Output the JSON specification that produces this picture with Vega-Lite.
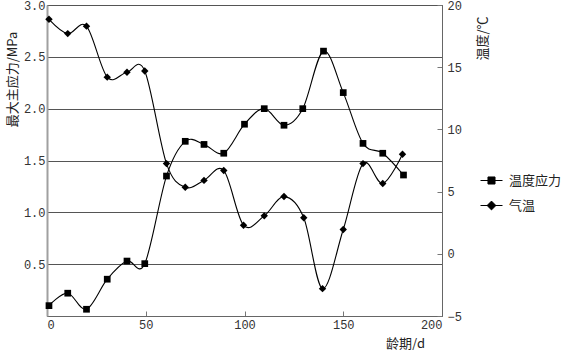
{
  "$schema": "https://vega.github.io/schema/vega-lite/v6.json",
  "width": 395,
  "height": 311,
  "autosize": {"type": "none"},
  "padding": {"left": 47, "top": 5, "right": 121, "bottom": 34},
  "background": "white",
  "config": {
    "view": {"stroke": "#666", "strokeWidth": 1},
    "axis": {
      "labelFont": "Liberation Mono",
      "labelFontSize": 12,
      "labelColor": "#333",
      "titleFont": "Noto Sans CJK SC",
      "titleFontSize": 13,
      "titleFontWeight": "normal",
      "titleColor": "#222",
      "domainColor": "#777",
      "tickColor": "#777",
      "gridColor": "#555",
      "gridWidth": 1
    },
    "legend": {
      "labelFont": "Noto Sans CJK SC",
      "labelFontSize": 13,
      "labelColor": "#222"
    }
  },
  "datasets": {
    "stress": [
      {"day": 1, "mpa": 0.1},
      {"day": 10.5, "mpa": 0.22},
      {"day": 20, "mpa": 0.065},
      {"day": 30.5, "mpa": 0.355},
      {"day": 40.5, "mpa": 0.53},
      {"day": 49.5, "mpa": 0.505},
      {"day": 60.5, "mpa": 1.35},
      {"day": 70, "mpa": 1.685},
      {"day": 79.5, "mpa": 1.655},
      {"day": 89.5, "mpa": 1.57},
      {"day": 100, "mpa": 1.85},
      {"day": 110, "mpa": 2.0},
      {"day": 120, "mpa": 1.84},
      {"day": 129.5, "mpa": 2.0},
      {"day": 140, "mpa": 2.555},
      {"day": 150, "mpa": 2.155},
      {"day": 160, "mpa": 1.665},
      {"day": 170, "mpa": 1.57},
      {"day": 180.5, "mpa": 1.36}
    ],
    "temp": [
      {"day": 1, "temp": 18.85},
      {"day": 10.5, "temp": 17.7},
      {"day": 20, "temp": 18.3},
      {"day": 30.5, "temp": 14.2},
      {"day": 40.5, "temp": 14.6},
      {"day": 49.5, "temp": 14.7},
      {"day": 60.5, "temp": 7.25},
      {"day": 70, "temp": 5.35},
      {"day": 79.5, "temp": 5.9},
      {"day": 89.5, "temp": 6.7},
      {"day": 99.5, "temp": 2.3},
      {"day": 110, "temp": 3.05},
      {"day": 120, "temp": 4.6},
      {"day": 130, "temp": 2.9},
      {"day": 139.5, "temp": -2.8},
      {"day": 150, "temp": 1.95},
      {"day": 160, "temp": 7.25},
      {"day": 170, "temp": 5.65},
      {"day": 180, "temp": 8.0}
    ]
  },
  "layer": [
    {
      "data": {"name": "stress"},
      "encoding": {
        "x": {
          "field": "day",
          "type": "quantitative",
          "scale": {"domain": [0, 200], "nice": false},
          "axis": {
            "values": [0, 50, 100, 150, 200],
            "grid": false,
            "tickSize": -5,
            "labelPadding": 8,
            "title": "龄期/d",
            "titleX": 358,
            "titleY": 27,
            "titleAlign": "center",
            "titleBaseline": "middle",
            "domainColor": "#666"
          }
        },
        "y": {
          "field": "mpa",
          "type": "quantitative",
          "scale": {"domain": [0, 3], "nice": false},
          "axis": {
            "orient": "left",
            "values": [0.5, 1, 1.5, 2, 2.5, 3],
            "format": ".1f",
            "grid": true,
            "ticks": false,
            "labelPadding": 2,
            "domainColor": "#a0a0a0",
            "domainWidth": 2,
            "title": "最大主应力/MPa",
            "titleAngle": 270,
            "titleX": -35,
            "titleY": 74,
            "titleAlign": "center",
            "titleBaseline": "middle"
          }
        }
      },
      "layer": [
        {
          "mark": {"type": "line", "interpolate": "cardinal", "color": "black", "strokeWidth": 1.1},
          "encoding": {
            "stroke": {
              "datum": "温度应力",
              "type": "nominal",
              "scale": {"range": ["black"]},
              "legend": {
                "title": null,
                "orient": "none",
                "legendX": 433,
                "legendY": 164,
                "symbolType": "M-1,0H1M-0.32,-0.32H0.32V0.32H-0.32Z",
                "symbolSize": 484,
                "symbolStrokeWidth": 1,
                "symbolFillColor": "black",
                "labelOffset": 6,
                "encode": {"symbols": {"update": {"fill": {"value": "black"}, "stroke": {"value": "black"}}}}
              }
            }
          }
        },
        {
          "mark": {"type": "point", "shape": "square", "filled": true, "color": "black", "size": 45, "opacity": 1}
        }
      ]
    },
    {
      "data": {"name": "temp"},
      "encoding": {
        "x": {"field": "day", "type": "quantitative", "scale": {"domain": [0, 200], "nice": false}},
        "y": {
          "field": "temp",
          "type": "quantitative",
          "scale": {"domain": [-5, 20], "nice": false},
          "axis": {
            "orient": "right",
            "values": [-5, 0, 5, 10, 15, 20],
            "grid": false,
            "tickSize": -5,
            "labelPadding": 10,
            "domainColor": "#666",
            "title": "温度/℃",
            "titleAngle": 270,
            "titleX": 40,
            "titleY": 33,
            "titleAlign": "center",
            "titleBaseline": "middle"
          }
        }
      },
      "layer": [
        {
          "mark": {"type": "line", "interpolate": "cardinal", "color": "black", "strokeWidth": 1.1},
          "encoding": {
            "stroke": {
              "datum": "气温",
              "type": "nominal",
              "scale": {"range": ["black"]},
              "legend": {
                "title": null,
                "orient": "none",
                "legendX": 433,
                "legendY": 189,
                "symbolType": "M-1,0H1M0,-0.4L0.4,0L0,0.4L-0.4,0Z",
                "symbolSize": 484,
                "symbolStrokeWidth": 1,
                "symbolFillColor": "black",
                "labelOffset": 6,
                "encode": {"symbols": {"update": {"fill": {"value": "black"}, "stroke": {"value": "black"}}}}
              }
            }
          }
        },
        {
          "mark": {"type": "point", "shape": "diamond", "filled": true, "color": "black", "size": 55, "opacity": 1}
        }
      ]
    }
  ],
  "resolve": {"scale": {"y": "independent", "stroke": "independent"}}
}
